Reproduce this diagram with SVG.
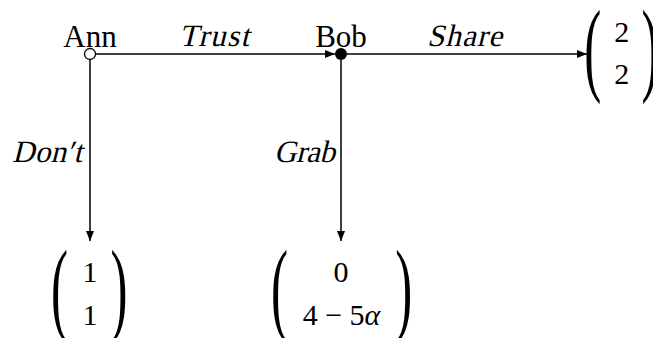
<svg xmlns="http://www.w3.org/2000/svg" width="653" height="338" viewBox="0 0 653 338">
<style>
text{font-family:'Liberation Serif','Times New Roman',serif;fill:#000}
.lbl{font-size:31px}
.num{font-size:30px}
.edge{stroke:#000;stroke-width:1.5;fill:none}
.par{font-size:60px}
</style>
<defs>
<marker id="arr" viewBox="0 0 10 8" refX="10" refY="4" markerWidth="10" markerHeight="8" markerUnits="userSpaceOnUse" orient="auto">
<path d="M0,0 L10,4 L0,8 Z" fill="#000"/>
</marker>
</defs>
<rect width="653" height="338" fill="#fff"/>
<g id="connectors">
<line class="edge" x1="96" y1="54" x2="335" y2="54" marker-end="url(#arr)"/>
<line class="edge" x1="347" y1="54" x2="587" y2="54" marker-end="url(#arr)"/>
<line class="edge" x1="90" y1="60" x2="90" y2="241" marker-end="url(#arr)"/>
<line class="edge" x1="341" y1="60" x2="341" y2="241" marker-end="url(#arr)"/>
<text class="lbl" transform="translate(179,46) skewX(-14)" textLength="70" lengthAdjust="spacing">Trust</text>
<text class="lbl" transform="translate(427,46) skewX(-14)" textLength="75" lengthAdjust="spacing">Share</text>
<text class="lbl" transform="translate(12,162) skewX(-14)" textLength="70" lengthAdjust="spacing">Don′t</text>
<text class="lbl" transform="translate(274,162) skewX(-14)" textLength="61" lengthAdjust="spacing">Grab</text>
</g>
<g id="ann">
<circle cx="90" cy="54" r="5.5" fill="#fff" stroke="#000" stroke-width="1.3"/>
<text class="lbl" x="90" y="47" text-anchor="middle">Ann</text>
</g>
<g id="bob">
<circle cx="341" cy="54" r="6" fill="#000"/>
<text class="lbl" x="341" y="47" text-anchor="middle">Bob</text>
</g>
<g id="payoff-share">
<text class="par" transform="translate(584.3,81.5) scale(0.85,1.72)">(</text>
<text class="num" x="621.7" y="41.7" text-anchor="middle">2</text>
<text class="num" x="621.7" y="83.5" text-anchor="middle">2</text>
<text class="par" transform="translate(641.5,81.5) scale(0.85,1.72)">)</text>
</g>
<g id="payoff-dont">
<text class="par" transform="translate(50.9,321.5) scale(0.85,1.72)">(</text>
<text class="num" x="90" y="281.5" text-anchor="middle">1</text>
<text class="num" x="90" y="325" text-anchor="middle">1</text>
<text class="par" transform="translate(110.5,321.5) scale(0.85,1.72)">)</text>
</g>
<g id="payoff-grab">
<text class="par" transform="translate(270.9,321.5) scale(0.85,1.72)">(</text>
<text class="num" x="341" y="281.5" text-anchor="middle">0</text>
<text class="num" x="341.5" y="325" text-anchor="middle">4 − 5<tspan font-style="italic">α</tspan></text>
<text class="par" transform="translate(395.2,321.5) scale(0.85,1.72)">)</text>
</g>
</svg>
